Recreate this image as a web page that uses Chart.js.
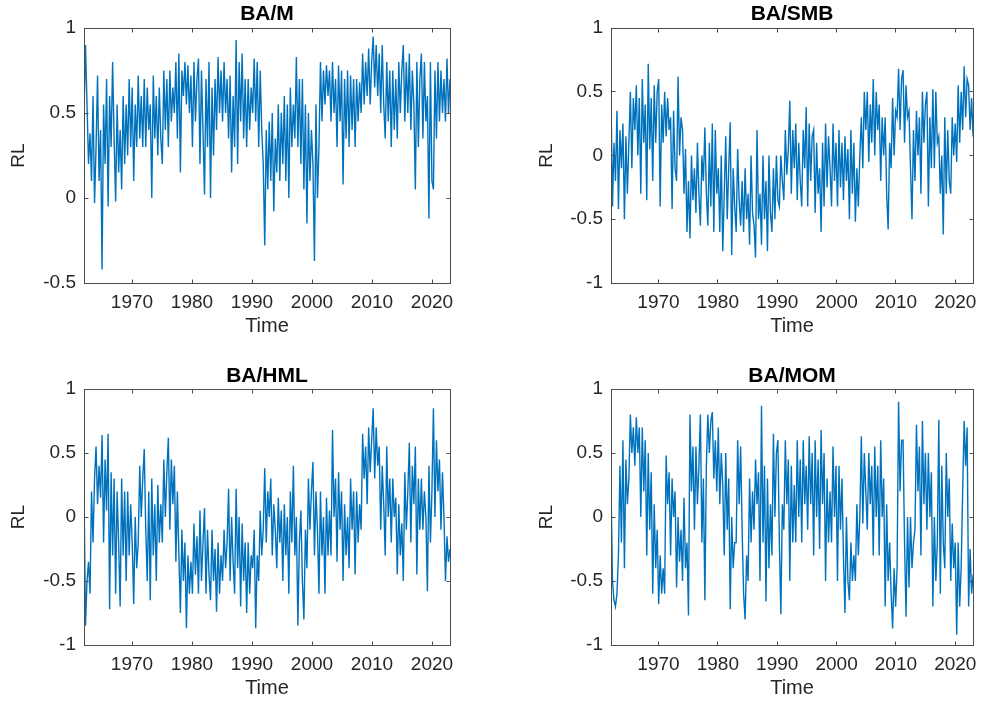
<!DOCTYPE html>
<html>
<head>
<meta charset="utf-8">
<script src="https://cdn.jsdelivr.net/npm/chart.js@4.4.1/dist/chart.umd.min.js"></script>
<style>
  html, body { margin: 0; padding: 0; background: #fff; }
  #fig { position: relative; width: 985px; height: 702px; }
  canvas { position: absolute; }
</style>
</head>
<body>
<div id="fig">
  <canvas id="cM" width="490" height="345" style="left:0;top:0"></canvas>
  <canvas id="cSMB" width="490" height="345" style="left:495px;top:0"></canvas>
  <canvas id="cHML" width="490" height="347" style="left:0;top:355px"></canvas>
  <canvas id="cMOM" width="490" height="347" style="left:495px;top:355px"></canvas>
</div>
<script>
// time span of the series (quarterly readings, first to last)
const startYear = 1962
const endYear = 2023
const xTickYears = [1970, 1980, 1990, 2000, 2010, 2020]
const yTicksM = [-0.5, 0, 0.5, 1]
const yTicksOther = [-1, -0.5, 0, 0.5, 1]
const titles = ['BA/M', 'BA/SMB', 'BA/HML', 'BA/MOM']

// BA/M, one row per year 1962..2022
const rlM = [
  0.5, 0.9, 0.55, 0.2,
  0.38, 0.1, 0.6, -0.03,
  0.3, 0.72, 0.1, 0.4,
  -0.42, 0.55, 0.2, 0.7,
  -0.05, 0.6, 0.3, 0.8,
  0.35, -0.02, 0.55, 0.15,
  0.4, 0.05, 0.6, 0.2,
  0.55, 0.25, 0.7, 0.3,
  0.65, 0.1, 0.55, 0.3,
  0.72, 0.35, 0.6, 0.3,
  0.7, 0.3, 0.65, 0.4,
  0.55, 0.0, 0.72, 0.35,
  0.6, 0.25, 0.65, 0.35,
  0.2, 0.75, 0.4, 0.7,
  0.3, 0.75, 0.45, 0.65,
  0.5, 0.8, 0.35, 0.85,
  0.15, 0.75, 0.6, 0.8,
  0.55, 0.78, 0.5, 0.72,
  0.3, 0.8, 0.45, 0.7,
  0.82, 0.2, 0.75, 0.4,
  0.02, 0.7, 0.3, 0.8,
  0.0, 0.65, 0.25, 0.7,
  0.4, 0.83, 0.5, 0.75,
  0.45, 0.8, 0.5, 0.7,
  0.35, 0.72, 0.15, 0.6,
  0.3, 0.93, 0.2, 0.8,
  0.45, 0.85, 0.35, 0.7,
  0.3, 0.7, 0.4, 0.65,
  0.5, 0.82, 0.45, 0.8,
  0.3, 0.75, 0.4, 0.2,
  -0.28, 0.4, 0.05, 0.45,
  0.1, 0.5, -0.08, 0.35,
  0.15, 0.55, 0.1, 0.5,
  0.2, 0.6, 0.1, 0.55,
  0.0, 0.65, 0.3, 0.55,
  0.35, 0.83, 0.3, 0.7,
  0.2, 0.7, 0.05, 0.55,
  -0.15, 0.5, 0.1, 0.4,
  0.2, -0.37, 0.55, 0.0,
  0.3, 0.8, 0.45, 0.75,
  0.55, 0.78, 0.6, 0.75,
  0.45, 0.8, 0.5, 0.7,
  0.3, 0.78, 0.45, 0.75,
  0.08, 0.7, 0.35, 0.75,
  0.3, 0.72, 0.4, 0.7,
  0.3, 0.7, 0.45, 0.68,
  0.5, 0.85, 0.55, 0.8,
  0.6, 0.88, 0.55, 0.8,
  0.95, 0.65, 0.9, 0.6,
  0.85, 0.5, 0.9, 0.55,
  0.35, 0.8, 0.45, 0.75,
  0.3, 0.75, 0.4, 0.7,
  0.35, 0.8, 0.5, 0.75,
  0.9, 0.45, 0.8, 0.5,
  0.85, 0.4, 0.75, 0.55,
  0.05, 0.8, 0.3, 0.7,
  0.85, 0.35, 0.8, 0.45,
  0.6, -0.12, 0.8, 0.1,
  0.05, 0.75, 0.35, 0.8,
  0.45, 0.75, 0.5, 0.7,
  0.45, 0.82, 0.5, 0.7,
]

// BA/SMB
const rlSMB = [
  0.45, -0.4, 0.1, -0.2,
  0.35, -0.42, 0.2, -0.1,
  0.25, -0.5, 0.15, -0.3,
  0.1, 0.5, -0.1, 0.45,
  0.2, 0.55, 0.0, 0.45,
  -0.3, 0.6, 0.1, 0.4,
  -0.35, 0.72, 0.05, 0.45,
  -0.2, 0.55, 0.1, 0.5,
  0.6, -0.4, 0.4, 0.1,
  0.5, 0.15, 0.45, 0.2,
  0.3, -0.42, 0.35, -0.1,
  -0.2, 0.62, 0.0, 0.3,
  0.2, -0.3, 0.05, -0.6,
  -0.2, -0.65, 0.0, -0.35,
  -0.1, -0.45, 0.1, -0.3,
  -0.55, 0.0, -0.2, 0.22,
  -0.3, -0.55, 0.1, -0.4,
  0.25, -0.6, 0.2, -0.3,
  -0.1, -0.6, 0.0, -0.75,
  -0.3, 0.15, -0.5, -0.1,
  0.26, -0.78, -0.1, -0.4,
  -0.6, 0.05, -0.35, -0.55,
  -0.2, -0.6, -0.1, -0.5,
  -0.3, -0.7, 0.0, -0.45,
  -0.55, -0.8, 0.2, -0.5,
  -0.3, -0.7, 0.0, -0.5,
  -0.2, -0.75, 0.0, -0.45,
  -0.6, -0.1, -0.5, 0.0,
  -0.35, -0.4, 0.0, -0.2,
  -0.35, 0.2, -0.15, 0.05,
  0.43, -0.3, 0.2, -0.1,
  0.25, -0.35, 0.1, -0.2,
  -0.4, 0.2, -0.1, 0.38,
  -0.4, 0.25, -0.2, 0.15,
  0.2, -0.45, 0.1, -0.3,
  -0.1, -0.6, 0.1, -0.4,
  0.25, -0.25, 0.15, -0.1,
  -0.4, 0.25, -0.2, 0.1,
  -0.4, 0.2, -0.25, 0.1,
  -0.35, 0.15, -0.2, 0.05,
  -0.5, 0.2, -0.3, 0.1,
  -0.52, -0.1, -0.4, 0.0,
  0.3, -0.1, 0.5, 0.2,
  0.5, -0.05, 0.4, 0.1,
  0.6, 0.0, 0.5, 0.2,
  0.4, -0.2, 0.3, 0.0,
  0.3, -0.3, -0.58, 0.1,
  -0.1, 0.45, 0.0, 0.35,
  0.3, 0.68, 0.2, 0.6,
  0.67, 0.1, 0.55, 0.3,
  0.35, -0.1, -0.5, 0.2,
  -0.2, 0.35, 0.0, 0.3,
  -0.3, 0.5, 0.1, 0.4,
  0.5, -0.4, 0.3, -0.1,
  0.52, -0.1, 0.5, 0.1,
  0.15, -0.3, 0.0, -0.62,
  0.3, -0.3, 0.2, -0.2,
  -0.3, 0.3, 0.0, 0.25,
  -0.05, 0.55, 0.1, 0.5,
  0.2, 0.7, 0.3, 0.6,
  0.55, 0.2, 0.45, 0.15,
]

// BA/HML
const rlHML = [
  0.22, -0.85, -0.5, -0.35,
  -0.6, 0.2, -0.2, 0.3,
  0.55, 0.1, 0.4, 0.15,
  0.64, -0.2, 0.45, 0.05,
  0.65, -0.72, 0.35, -0.3,
  0.3, -0.6, 0.2, -0.2,
  -0.7, 0.3, -0.3, 0.2,
  -0.5, 0.2, -0.3, 0.1,
  -0.2, -0.68, 0.0, -0.4,
  -0.2, 0.4, 0.0, 0.3,
  0.53, -0.1, -0.5, 0.2,
  -0.65, 0.3, -0.3, 0.1,
  -0.5, 0.25, -0.2, 0.1,
  -0.2, 0.45, 0.0, 0.35,
  0.62, -0.1, 0.45, 0.1,
  0.4, -0.35, 0.2, -0.3,
  -0.75, -0.1, -0.5, -0.2,
  -0.87, -0.3, -0.6, -0.35,
  -0.6, -0.05, -0.45, -0.15,
  -0.6, 0.05, -0.5, -0.2,
  0.07, -0.6, -0.1, -0.45,
  -0.65, -0.1, -0.5, -0.25,
  -0.74, -0.2, -0.6, -0.3,
  -0.5, -0.1, -0.4, -0.2,
  0.22, -0.5, 0.0, -0.35,
  -0.6, 0.22, -0.4, 0.0,
  -0.7, -0.05, -0.5, -0.2,
  -0.75, -0.2, -0.6, -0.3,
  -0.4, -0.1, -0.87, -0.3,
  -0.5, 0.05, -0.3, -0.1,
  0.38, -0.2, 0.2, 0.0,
  0.3, -0.3, 0.1, -0.1,
  -0.4, 0.15, -0.2, 0.05,
  -0.5, 0.1, -0.3, 0.0,
  -0.6, 0.2, -0.2, 0.4,
  -0.3, 0.0, -0.85, -0.2,
  0.05, -0.5, -0.8, -0.1,
  -0.4, 0.3, -0.1, 0.2,
  0.43, -0.3, 0.2, -0.1,
  -0.6, 0.2, -0.3, 0.0,
  -0.6, 0.15, -0.3, 0.05,
  -0.3, 0.68, 0.0, 0.3,
  -0.35, 0.35, -0.1, 0.2,
  -0.5, 0.1, -0.3, 0.0,
  -0.4, 0.3, -0.1, 0.2,
  -0.45, 0.2, -0.2, 0.1,
  -0.1, 0.65, 0.3, 0.55,
  0.1, 0.7, 0.35, 0.6,
  0.85, 0.3, 0.7, 0.4,
  0.55, -0.1, 0.4, 0.1,
  -0.3, 0.55, 0.0, 0.3,
  -0.2, 0.3, 0.0, 0.15,
  -0.45, 0.1, -0.3, -0.05,
  -0.5, 0.35, -0.1, 0.2,
  0.58, -0.2, 0.4, 0.1,
  0.55, -0.45, 0.3, -0.1,
  0.3, -0.1, 0.2, 0.0,
  -0.58, 0.4, -0.2, 0.2,
  0.85, 0.0, 0.6, 0.2,
  0.45, -0.1, 0.35, 0.0,
  -0.5, -0.15, -0.35, -0.25,
]

// BA/MOM
const rlMOM = [
  0.25, -0.5, -0.65, -0.7,
  -0.6, -0.3, 0.4, -0.2,
  0.6, -0.4, 0.45, 0.1,
  0.3, 0.8, 0.5, 0.7,
  0.4, 0.78, 0.5, 0.7,
  0.0, 0.7, 0.2, 0.6,
  -0.3, 0.5, -0.1, 0.35,
  -0.6, 0.1, -0.4, -0.1,
  -0.68, -0.3, -0.6, -0.4,
  -0.6, 0.48, 0.1, 0.35,
  -0.3, 0.3, 0.0, 0.2,
  -0.55, 0.0, -0.35, -0.1,
  -0.5, 0.15, -0.4, -0.2,
  -0.77, 0.8, 0.2, 0.55,
  -0.1, 0.55, 0.1, 0.4,
  0.8, -0.2, 0.3, -0.65,
  0.4, 0.8, 0.5, 0.75,
  0.82, 0.3, 0.6, 0.2,
  0.7, 0.1, 0.5, 0.25,
  -0.3, 0.5, -0.1, 0.3,
  -0.72, 0.0, -0.4, -0.2,
  -0.2, 0.6, 0.1, 0.55,
  -0.1, -0.6, -0.8, -0.3,
  -0.5, 0.3, -0.2, 0.2,
  -0.1, 0.45, 0.1, 0.35,
  -0.5, 0.87, -0.2, 0.4,
  -0.66, 0.3, -0.4, 0.1,
  -0.3, 0.65, 0.0, 0.5,
  0.6, -0.2, -0.76, 0.1,
  -0.1, 0.6, 0.1, 0.45,
  -0.5, 0.4, -0.2, 0.25,
  -0.2, 0.6, 0.0, 0.45,
  -0.2, 0.6, 0.1, 0.4,
  -0.1, 0.63, 0.1, 0.5,
  -0.3, 0.6, 0.0, 0.45,
  -0.25, 0.68, 0.1, 0.5,
  -0.5, 0.3, -0.2, 0.2,
  -0.2, 0.55, 0.0, 0.4,
  -0.5, 0.4, -0.1, 0.3,
  -0.3, -0.75, 0.0, -0.5,
  -0.65, -0.2, -0.5, -0.3,
  -0.5, 0.1, -0.3, 0.0,
  0.63, -0.05, 0.5, 0.2,
  -0.1, 0.5, 0.1, 0.4,
  -0.3, 0.55, 0.0, 0.4,
  -0.3, 0.6, 0.0, 0.3,
  -0.7, 0.1, -0.5, -0.2,
  -0.6, -0.87, -0.4, -0.7,
  -0.4, 0.9, 0.2, 0.6,
  0.6, -0.2, -0.78, 0.0,
  -0.55, 0.0, -0.4, -0.2,
  -0.1, 0.72, 0.2, 0.55,
  -0.3, 0.75, 0.1, 0.5,
  -0.1, 0.5, 0.0, 0.35,
  -0.7, 0.0, -0.5, -0.2,
  0.76, -0.6, 0.4, -0.2,
  -0.4, 0.5, 0.0, 0.3,
  -0.5, -0.05, -0.4, -0.2,
  -0.92, -0.2, -0.7, -0.4,
  0.2, 0.75, 0.4, 0.7,
  -0.7, -0.25, -0.6, -0.45,
]

const FONT = 'Helvetica, Arial, "Liberation Sans", sans-serif'
const lineBlue = '#0072BD'
const axisGrey = '#4d4d4d'

// matlab style box with ticks pointing inward on all four sides
const boxTicks = {
  id: 'boxTicks',
  afterDatasetsDraw(chart) {
    const {ctx, chartArea: a, scales: {x, y}} = chart
    const l = Math.floor(a.left) + 0.5, r = Math.floor(a.right) + 0.5
    const t = Math.floor(a.top) + 0.5, b = Math.floor(a.bottom) + 0.5
    const len = 4
    ctx.save()
    ctx.strokeStyle = axisGrey
    ctx.lineWidth = 1
    ctx.strokeRect(l, t, r - l, b - t)
    ctx.beginPath()
    x.ticks.forEach(tk => {
      const px = Math.floor(x.getPixelForValue(tk.value)) + 0.5
      ctx.moveTo(px, b); ctx.lineTo(px, b - len)
      ctx.moveTo(px, t); ctx.lineTo(px, t + len)
    })
    y.ticks.forEach(tk => {
      const py = Math.floor(y.getPixelForValue(tk.value)) + 0.5
      ctx.moveTo(l, py); ctx.lineTo(l + len, py)
      ctx.moveTo(r, py); ctx.lineTo(r - len, py)
    })
    ctx.stroke()
    ctx.restore()
  }
}

function toPoints(values) {
  const step = (endYear - startYear) / (values.length - 1)
  return values.map((v, i) => ({x: startYear + i * step, y: v}))
}

// p: where the plot box sits inside its canvas
function makePanel(id, title, values, yTicks, p) {
  const canvas = document.getElementById(id)
  const xAxisH = 55
  return new Chart(canvas, {
    type: 'line',
    data: {
      datasets: [{
        data: toPoints(values),
        borderColor: lineBlue,
        borderWidth: 1.4,
        pointRadius: 0,
        tension: 0,
        fill: false,
      }]
    },
    options: {
      responsive: false,
      animation: false,
      events: [],
      layout: {
        padding: {
          left: 0,
          right: canvas.width - p.right,
          top: p.titleMid - 12.6,
          bottom: canvas.height - p.bottom - xAxisH,
        }
      },
      plugins: {
        legend: {display: false},
        tooltip: {enabled: false},
        title: {
          display: true,
          text: title,
          fullSize: false,
          color: '#000',
          font: {family: FONT, size: 21, weight: 'bold', lineHeight: 1.2},
          padding: {top: 0, bottom: p.top - p.titleMid - 12.6},
        },
      },
      scales: {
        x: {
          type: 'linear',
          min: startYear,
          max: endYear,
          afterBuildTicks: s => { s.ticks = xTickYears.map(v => ({value: v})) },
          afterFit: s => { s.height = xAxisH },
          grid: {display: false, drawTicks: false},
          border: {display: false},
          ticks: {
            color: '#262626',
            padding: 8,
            maxRotation: 0,
            font: {family: FONT, size: 19},
            callback: v => String(v),
          },
          title: {
            display: true,
            text: 'Time',
            color: '#262626',
            font: {family: FONT, size: 20},
            padding: {top: 0, bottom: 0},
          },
        },
        y: {
          type: 'linear',
          min: yTicks[0],
          max: yTicks[yTicks.length - 1],
          afterBuildTicks: s => { s.ticks = yTicks.map(v => ({value: v})) },
          afterFit: s => { s.width = p.left },
          grid: {display: false, drawTicks: false},
          border: {display: false},
          ticks: {
            color: '#262626',
            padding: 8,
            font: {family: FONT, size: 19},
            callback: v => String(v),
          },
          title: {
            display: true,
            text: 'RL',
            color: '#262626',
            font: {family: FONT, size: 19},
            padding: {top: p.rlMid - 11.4, bottom: 0},
          },
        },
      },
    },
    plugins: [boxTicks],
  })
}

const chartM = makePanel('cM', titles[0], rlM, yTicksM,
  {left: 84, right: 450, top: 28, bottom: 283, titleMid: 14.5, rlMid: 19})
const chartSMB = makePanel('cSMB', titles[1], rlSMB, yTicksOther,
  {left: 116, right: 482, top: 28, bottom: 283, titleMid: 14.5, rlMid: 52})
const chartHML = makePanel('cHML', titles[2], rlHML, yTicksOther,
  {left: 84, right: 450, top: 34, bottom: 290, titleMid: 21, rlMid: 19})
const chartMOM = makePanel('cMOM', titles[3], rlMOM, yTicksOther,
  {left: 116, right: 482, top: 34, bottom: 290, titleMid: 21, rlMid: 52})
</script>
</body>
</html>
